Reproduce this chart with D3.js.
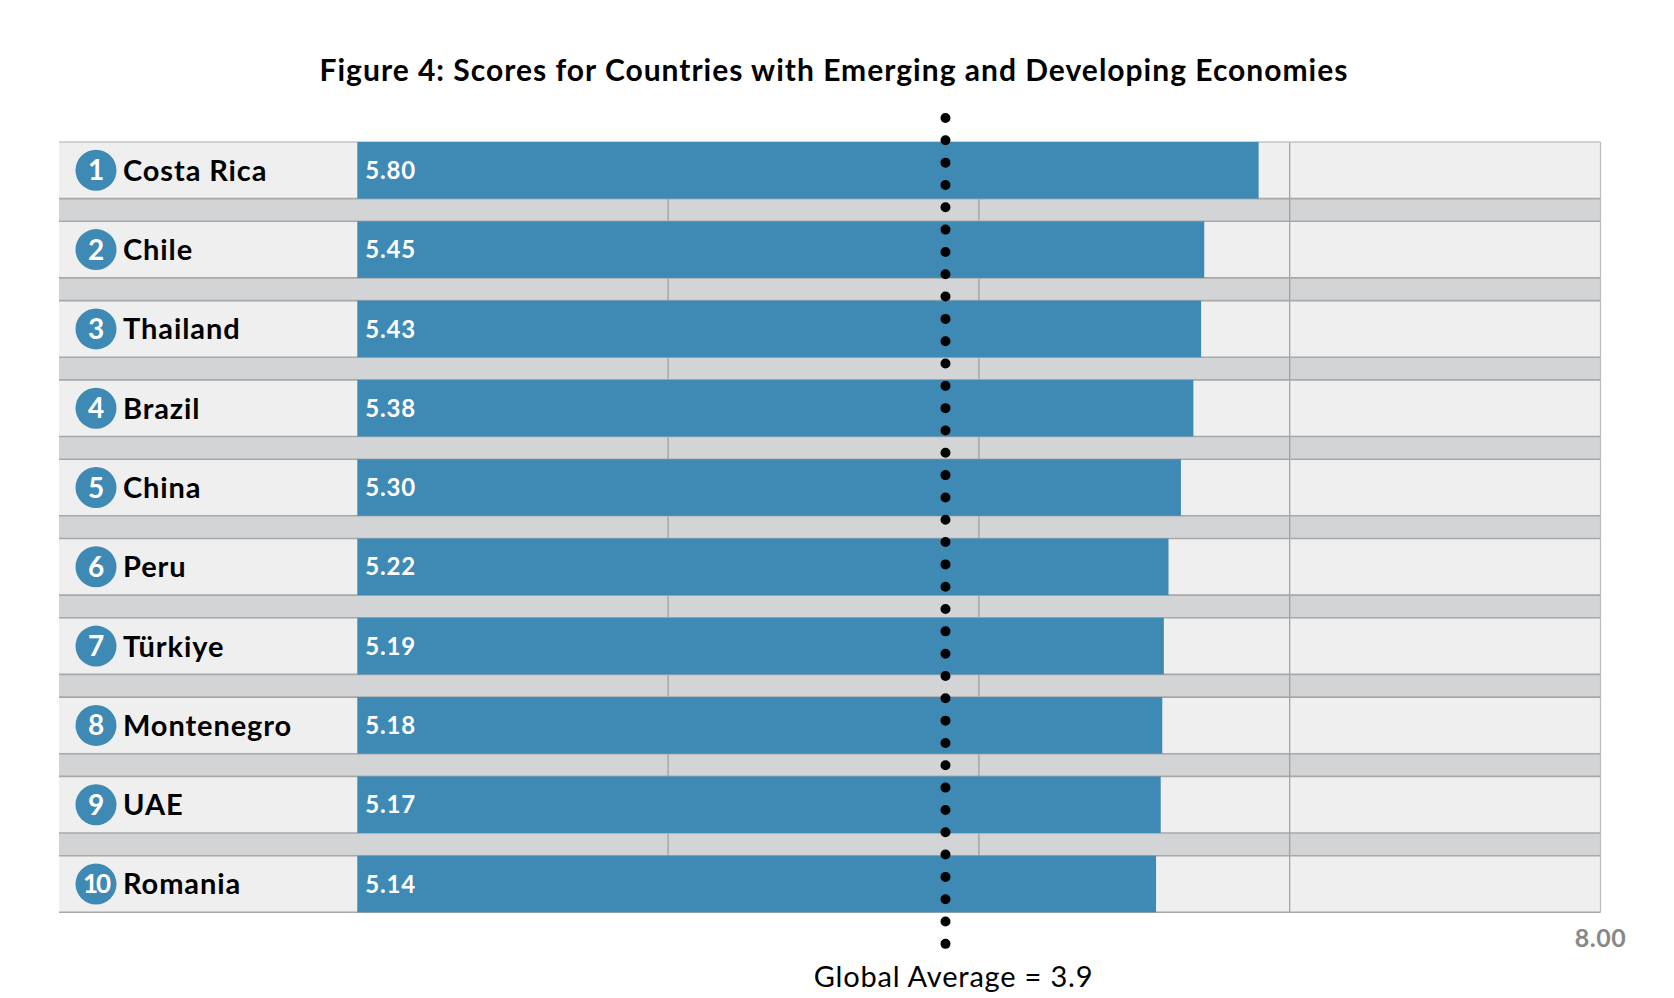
<!doctype html>
<html>
  <head>
    <meta charset="utf-8">
    <title>Figure 4</title>
    <script src="https://cdnjs.cloudflare.com/ajax/libs/d3/7.8.5/d3.min.js"></script>
    <style>
      body { margin: 0; background: #fff; }
      text { font-family: Lato, "Open Sans", sans-serif; }
    </style>
  </head>
  <body>
    <div id="chart"></div>
    <script>
      // data
      const countries = ['Costa Rica', 'Chile', 'Thailand', 'Brazil', 'China',
                         'Peru', 'Türkiye', 'Montenegro', 'UAE', 'Romania'];
      const scores = [5.80, 5.45, 5.43, 5.38, 5.30, 5.22, 5.19, 5.18, 5.17, 5.14];
      const gridTicks = [2, 4, 6, 8];
      const axisLabels = ['8.00'];        // only the end tick is labelled
      const globalAverage = 3.9;
      const averageLineAt = 3.785;        // where the dotted line sits in the picture

      const data = countries.map((c, i) => ({ rank: i + 1, country: c, score: scores[i] }));

      const width = 1674, height = 998;
      const rowLeft = 59;

      const svg = d3.select('#chart')
        .append('svg')
        .attr('width', width)
        .attr('height', height);

      const x = d3.scaleLinear().domain([0, 8]).range([357.3, 1600.5]);
      const y = d3.scaleBand().domain(countries).range([142, 912.3]).paddingInner(0.286);
      const bw = y.bandwidth();
      const plotTop = y.range()[0], plotBottom = y.range()[1];

      // title
      svg.append('text')
        .attr('x', 834)
        .attr('y', 81)
        .attr('text-anchor', 'middle')
        .style('font-size', '30px')
        .style('font-weight', 700)
        .style('letter-spacing', '1px')
        .style('fill', '#000')
        .text('Figure 4: Scores for Countries with Emerging and Developing Economies');

      // grey band behind everything
      svg.append('rect')
        .attr('x', rowLeft)
        .attr('y', plotTop)
        .attr('width', x(8) - rowLeft)
        .attr('height', plotBottom - plotTop)
        .style('fill', '#d3d4d6');

      // light rows
      svg.selectAll('.row')
        .data(data)
        .join('rect')
        .attr('class', 'row')
        .attr('x', rowLeft)
        .attr('y', d => y(d.country))
        .attr('width', x(8) - rowLeft)
        .attr('height', bw)
        .style('fill', '#efefef');

      // vertical gridlines
      svg.selectAll('.grid')
        .data(gridTicks)
        .join('line')
        .attr('class', 'grid')
        .attr('x1', d => x(d))
        .attr('x2', d => x(d))
        .attr('y1', plotTop)
        .attr('y2', plotBottom)
        .style('stroke', d => d === 8 ? '#bdbdbd' : '#9c9c9c')
        .style('stroke-width', 1.2);

      // row borders
      const edges = [];
      data.forEach(d => {
        edges.push({ y: y(d.country), first: d.rank === 1 });
        edges.push({ y: y(d.country) + bw, first: false });
      });
      svg.selectAll('.edge')
        .data(edges)
        .join('line')
        .attr('class', 'edge')
        .attr('x1', rowLeft)
        .attr('x2', x(8))
        .attr('y1', d => d.y)
        .attr('y2', d => d.y)
        .style('stroke', d => d.first ? '#c4c4c4' : '#a8a8a8')
        .style('stroke-width', 1.6);

      // bars
      svg.selectAll('.bar')
        .data(data)
        .join('rect')
        .attr('class', 'bar')
        .attr('x', x(0))
        .attr('y', d => y(d.country))
        .attr('width', d => x(d.score) - x(0))
        .attr('height', bw)
        .style('fill', '#3f8ab5');

      // score labels
      svg.selectAll('.val')
        .data(data)
        .join('text')
        .attr('class', 'val')
        .attr('x', x(0) + 8)
        .attr('y', d => y(d.country) + bw / 2)
        .attr('dy', '0.36em')
        .style('font-size', '24px')
        .style('font-weight', 700)
        .style('letter-spacing', '0.8px')
        .style('fill', '#fff')
        .text(d => d.score.toFixed(2));

      // rank circles
      svg.selectAll('.dot-rank')
        .data(data)
        .join('circle')
        .attr('class', 'dot-rank')
        .attr('cx', 96)
        .attr('cy', d => y(d.country) + bw / 2)
        .attr('r', 20.5)
        .style('fill', '#3f8ab5');

      svg.selectAll('.rank')
        .data(data)
        .join('text')
        .attr('class', 'rank')
        .attr('x', 96)
        .attr('y', d => y(d.country) + bw / 2)
        .attr('dy', '0.36em')
        .attr('text-anchor', 'middle')
        .style('font-size', d => d.rank > 9 ? '26px' : '28px')
        .style('font-weight', 700)
        .style('letter-spacing', d => d.rank > 9 ? '-2px' : '0px')
        .style('fill', '#fff')
        .text(d => d.rank);

      // country names
      svg.selectAll('.name')
        .data(data)
        .join('text')
        .attr('class', 'name')
        .attr('x', 123)
        .attr('y', d => y(d.country) + bw / 2)
        .attr('dy', '0.36em')
        .style('font-size', '29px')
        .style('font-weight', 700)
        .style('letter-spacing', '0.9px')
        .style('fill', '#000')
        .text(d => d.country);

      // dotted global average line
      svg.append('line')
        .attr('x1', x(averageLineAt))
        .attr('x2', x(averageLineAt))
        .attr('y1', 118)
        .attr('y2', 944)
        .style('stroke', '#000')
        .style('stroke-width', 10)
        .style('stroke-linecap', 'round')
        .style('stroke-dasharray', '0 22.32');

      svg.append('text')
        .attr('x', x(averageLineAt) + 8)
        .attr('y', 977)
        .attr('dy', '0.36em')
        .attr('text-anchor', 'middle')
        .style('font-size', '29px')
        .style('letter-spacing', '0.8px')
        .style('fill', '#000')
        .text('Global Average = ' + globalAverage);

      // end tick label
      svg.selectAll('.tick-label')
        .data(axisLabels)
        .join('text')
        .attr('class', 'tick-label')
        .attr('x', x(8))
        .attr('y', 938)
        .attr('dy', '0.36em')
        .attr('text-anchor', 'middle')
        .style('font-size', '25px')
        .style('font-weight', 700)
        .style('letter-spacing', '0.5px')
        .style('fill', '#888')
        .text(d => d);
    </script>
  </body>
</html>
